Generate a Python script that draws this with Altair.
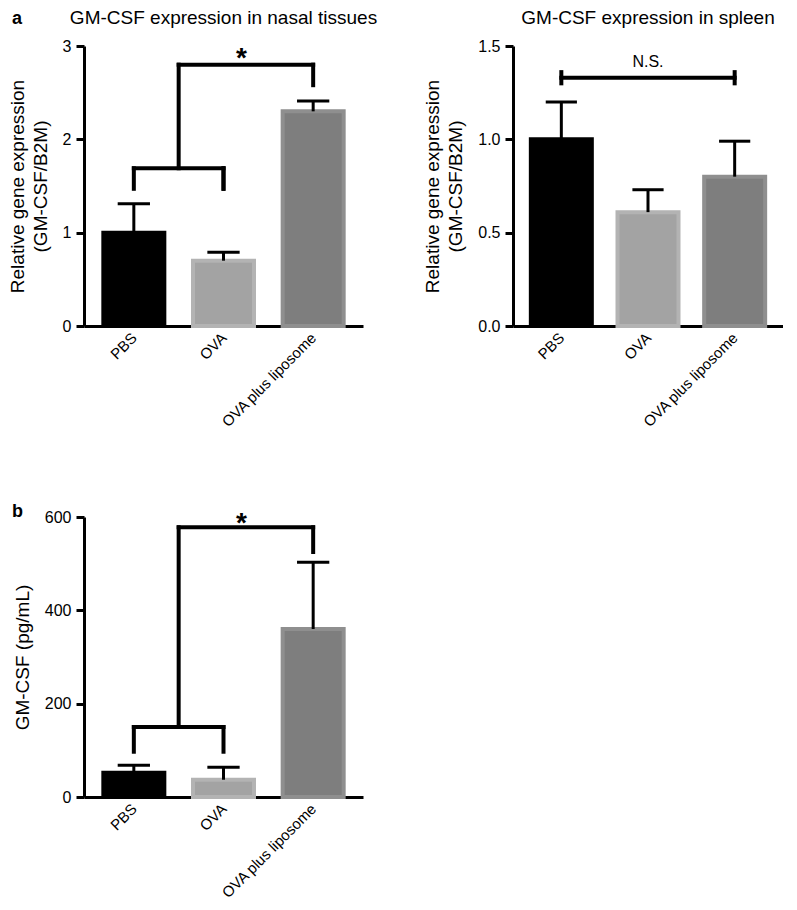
import altair as alt
import pandas as pd

groups = ["PBS", "OVA", "OVA plus liposome"]
idx = [0, 1, 2]
fills = ["#000000", "#a3a3a3", "#7e7e7e"]
strokes = ["#000000", "#b3b3b3", "#8f8f8f"]

nasal_mean = [1.00, 0.70, 2.30]
nasal_upper = [1.31, 0.79, 2.41]
spleen_mean = [1.00, 0.61, 0.80]
spleen_upper = [1.20, 0.73, 0.99]
serum_mean = [52, 37, 360]
serum_upper = [68, 64, 503]

# bracket segments: x, x2, y, y2
nasal_br_x = [0, 1, 0, 1, 0.5, 0.5, 2]
nasal_br_x2 = [1, 1, 0, 1, 2, 0.5, 2]
nasal_br_y = [1.69, 1.47, 1.47, 1.47, 2.80, 1.69, 2.58]
nasal_br_y2 = [1.69, 1.69, 1.69, 1.69, 2.80, 2.80, 2.80]

spleen_br_x = [0, 0, 2]
spleen_br_x2 = [2, 0, 2]
spleen_br_y = [1.33, 1.30, 1.30]
spleen_br_y2 = [1.33, 1.36, 1.36]

serum_br_x = [0, 0, 1, 0.5, 0.5, 2]
serum_br_x2 = [1, 0, 1, 2, 0.5, 2]
serum_br_y = [150, 97, 97, 578, 150, 525]
serum_br_y2 = [150, 150, 150, 578, 578, 578]

FONT = "Liberation Sans"
CAP = 0.18


def panel(mean, upper, brx, brx2, bry, bry2, sig, sig_x, sig_y, sig_size,
          ydomain, yvalues, yfmt, ytitle, title, letter, letter_y, width=279):
    df = pd.DataFrame({"idx": idx, "group": groups, "mean": mean,
                       "upper": upper, "fill": fills, "stroke": strokes})
    br = pd.DataFrame({"x": brx, "x2": brx2, "y": bry, "y2": bry2})
    xsc = alt.Scale(domain=[-0.5, 2.5], nice=False, zero=False)
    ysc = alt.Scale(domain=ydomain, nice=False)
    xax = alt.Axis(values=idx, labelExpr="['PBS','OVA','OVA plus liposome'][datum.value]",
                   labelAngle=-45, labelAlign="right", labelBaseline="middle",
                   labelOverlap=False, labelBound=False,
                   ticks=False, labelPadding=9, title=None, grid=False,
                   labelFontSize=15, labelFont=FONT, labelColor="black",
                   domainWidth=3, domainColor="black")
    yax = alt.Axis(values=yvalues, format=yfmt, title=ytitle, grid=False,
                   tickSize=8, tickWidth=3, tickColor="black",
                   domainWidth=3, domainColor="black", labelPadding=5,
                   labelFontSize=16, labelFont=FONT, labelColor="black",
                   titleFontSize=19, titleFont=FONT, titleFontWeight="normal",
                   titleColor="black", titlePadding=12, titleLineHeight=23)
    base = alt.Chart(df)
    bars = base.mark_bar(size=61, strokeWidth=4).encode(
        x=alt.X("idx:Q", scale=xsc, axis=xax),
        y=alt.Y("mean:Q", scale=ysc, axis=yax),
        fill=alt.Fill("fill:N", scale=None),
        stroke=alt.Stroke("stroke:N", scale=None),
    )
    err = base.mark_rule(strokeWidth=3, color="black").encode(
        x="idx:Q", y=alt.Y("mean:Q"), y2="upper:Q")
    cap = base.transform_calculate(
        xa=f"datum.idx - {CAP}", xb=f"datum.idx + {CAP}"
    ).mark_rule(strokeWidth=3, color="black").encode(
        x="xa:Q", x2="xb:Q", y="upper:Q")
    brk = alt.Chart(br).mark_rule(strokeWidth=4, color="black", strokeCap="square").encode(
        x="x:Q", x2="x2:Q", y="y:Q", y2="y2:Q")
    txt = alt.Chart(pd.DataFrame({"t": [sig], "x": [sig_x], "y": [sig_y]})).mark_text(
        font=FONT, fontSize=sig_size, color="black", baseline="bottom",
        fontWeight="bold" if sig == "*" else "normal"
    ).encode(x="x:Q", y="y:Q", text="t:N")
    layers = [bars, err, cap, brk, txt]
    if title:
        tt = alt.Chart(pd.DataFrame({"t": [title]})).mark_text(
            font=FONT, fontSize=19, color="black", align="center",
            baseline="alphabetic"
        ).encode(x=alt.value(width / 2), y=alt.value(-22), text="t:N")
        layers.append(tt)
    if letter:
        lt = alt.Chart(pd.DataFrame({"t": [letter]})).mark_text(
            font=FONT, fontSize=18, fontWeight="bold", color="black",
            align="left", baseline="alphabetic"
        ).encode(x=alt.value(-72), y=alt.value(letter_y), text="t:N")
        layers.append(lt)
    return alt.layer(*layers).properties(width=width, height=280)


a1 = panel(nasal_mean, nasal_upper, nasal_br_x, nasal_br_x2, nasal_br_y, nasal_br_y2,
           "*", 1.2, 2.71, 28, [0, 3], [0, 1, 2, 3], "d",
           ["Relative gene expression", "(GM-CSF/B2M)"],
           "GM-CSF expression in nasal tissues", "a", -22)
a2 = panel(spleen_mean, spleen_upper, spleen_br_x, spleen_br_x2, spleen_br_y, spleen_br_y2,
           "N.S.", 1.0, 1.37, 16, [0, 1.5], [0, 0.5, 1.0, 1.5], ".1f",
           ["Relative gene expression", "(GM-CSF/B2M)"],
           "GM-CSF expression in spleen", None, 0, width=270)
b = panel(serum_mean, serum_upper, serum_br_x, serum_br_x2, serum_br_y, serum_br_y2,
          "*", 1.2, 555, 28, [0, 600], [0, 200, 400, 600], "d",
          "GM-CSF (pg/mL)", None, "b", 0)

chart = alt.vconcat(
    alt.hconcat(a1, a2, spacing=45),
    b,
    spacing=72,
).properties(padding={"top": 1, "left": 0, "right": 0, "bottom": 0}).configure_view(stroke=None)

chart.save("out.html", embed_options={"renderer": "svg", "actions": False})
